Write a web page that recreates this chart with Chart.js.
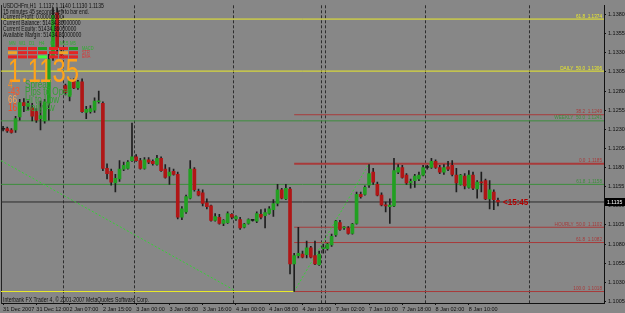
<!DOCTYPE html>
<html>
<head>
<meta charset="utf-8">
<script src="https://cdn.jsdelivr.net/npm/chart.js@4.4.0/dist/chart.umd.min.js"></script>
<style>
  html, body { margin: 0; padding: 0; background: #878787; }
  #wrap { width: 625px; height: 313px; }
</style>
</head>
<body>
<div id="wrap"><canvas id="chart" width="625" height="313"></canvas></div>
<script>
// USDCHFm H1, 31 Dec 2007 - 8 Jan 2008
const timeLabels = ['31 Dec 2007', '31 Dec 12:00', '2 Jan 07:00', '2 Jan 15:00', '3 Jan 00:00',
  '3 Jan 08:00', '3 Jan 16:00', '4 Jan 00:00', '4 Jan 08:00', '4 Jan 16:00', '7 Jan 02:00',
  '7 Jan 10:00', '7 Jan 18:00', '8 Jan 02:00', '8 Jan 10:00'];

const opens = [1.1230,1.1231,1.1229,1.1229,1.1246,1.1265,1.1260,1.1258,1.1253,1.1244,1.1241,1.1264,1.1324,1.1382,1.1330,
  1.1287,1.1273,1.1293,1.1284,1.1292,1.1252,1.1253,1.1255,1.1266,1.1264,1.1179,1.1175,1.1160,1.1165,1.1178,
  1.1179,1.1189,1.1194,1.1189,1.1179,1.1190,1.1188,1.1184,1.1192,1.1178,1.1169,1.1175,1.1171,1.1115,1.1122,
  1.1140,1.1178,1.1149,1.1147,1.1134,1.1130,1.1111,1.1115,1.1107,1.1108,1.1119,1.1113,1.1112,1.1102,1.1107,
  1.1111,1.1110,1.1119,1.1117,1.1120,1.1125,1.1133,1.1151,1.1139,1.1152,1.1054,1.1065,1.1067,1.1066,1.1075,
  1.1065,1.1053,1.1074,1.1074,1.1079,1.1092,1.1108,1.1101,1.1101,1.1094,1.1107,1.1145,1.1145,1.1157,1.1174,
  1.1158,1.1144,1.1131,1.1129,1.1130,1.1174,1.1180,1.1170,1.1160,1.1163,1.1165,1.1170,1.1180,1.1180,1.1188,
  1.1180,1.1174,1.1181,1.1183,1.1170,1.1158,1.1169,1.1154,1.1170,1.1152,1.1161,1.1163,1.1139,1.1148,1.1137];
const highs = [1.1234,1.1233,1.1231,1.1247,1.1269,1.1270,1.1267,1.1264,1.1257,1.1267,1.1269,1.1328,1.1389,1.1388,1.1334,
  1.1289,1.1296,1.1296,1.1294,1.1296,1.1260,1.1261,1.1271,1.1280,1.1266,1.1185,1.1178,1.1171,1.1189,1.1187,
  1.1189,1.1238,1.1197,1.1192,1.1193,1.1193,1.1190,1.1196,1.1194,1.1184,1.1180,1.1178,1.1174,1.1129,1.1144,
  1.1189,1.1180,1.1152,1.1151,1.1139,1.1131,1.1120,1.1119,1.1112,1.1122,1.1120,1.1117,1.1115,1.1107,1.1113,
  1.1112,1.1122,1.1125,1.1126,1.1129,1.1138,1.1158,1.1153,1.1158,1.1154,1.1068,1.1102,1.1071,1.1084,1.1077,
  1.1084,1.1071,1.1080,1.1081,1.1093,1.1111,1.1111,1.1103,1.1103,1.1107,1.1148,1.1148,1.1156,1.1184,1.1179,
  1.1161,1.1147,1.1135,1.1139,1.1192,1.1184,1.1183,1.1172,1.1165,1.1171,1.1174,1.1183,1.1183,1.1192,1.1190,
  1.1183,1.1184,1.1188,1.1189,1.1179,1.1171,1.1172,1.1176,1.1174,1.1163,1.1174,1.1165,1.1163,1.1151,1.1140];
const lows = [1.1228,1.1226,1.1225,1.1226,1.1242,1.1253,1.1256,1.1241,1.1239,1.1229,1.1238,1.1242,1.1320,1.1328,1.1324,
  1.1275,1.1267,1.1283,1.1282,1.1252,1.1244,1.1251,1.1252,1.1264,1.1176,1.1165,1.1157,1.1148,1.1162,1.1176,
  1.1178,1.1188,1.1188,1.1178,1.1178,1.1185,1.1183,1.1183,1.1175,1.1166,1.1158,1.1170,1.1113,1.1112,1.1120,
  1.1139,1.1149,1.1143,1.1130,1.1126,1.1110,1.1110,1.1106,1.1104,1.1107,1.1113,1.1111,1.1099,1.1101,1.1106,
  1.1110,1.1108,1.1113,1.1101,1.1119,1.1116,1.1130,1.1139,1.1138,1.1041,1.1018,1.1062,1.1062,1.1062,1.1062,
  1.1053,1.1052,1.1068,1.1072,1.1077,1.1090,1.1098,1.1099,1.1093,1.1093,1.1106,1.1140,1.1144,1.1154,1.1158,
  1.1143,1.1130,1.1122,1.1107,1.1129,1.1172,1.1166,1.1158,1.1153,1.1154,1.1163,1.1169,1.1178,1.1179,1.1179,
  1.1172,1.1171,1.1176,1.1169,1.1148,1.1157,1.1152,1.1153,1.1151,1.1140,1.1148,1.1138,1.1126,1.1125,1.1130];
const closes = [1.1230,1.1228,1.1226,1.1244,1.1265,1.1261,1.1264,1.1247,1.1242,1.1248,1.1266,1.1321,1.1379,1.1337,1.1327,
  1.1278,1.1293,1.1284,1.1292,1.1253,1.1256,1.1257,1.1267,1.1267,1.1179,1.1172,1.1161,1.1166,1.1178,1.1183,
  1.1187,1.1194,1.1189,1.1179,1.1190,1.1187,1.1185,1.1192,1.1176,1.1167,1.1174,1.1171,1.1115,1.1126,1.1142,
  1.1178,1.1151,1.1144,1.1133,1.1129,1.1111,1.1116,1.1107,1.1111,1.1120,1.1115,1.1116,1.1101,1.1106,1.1112,
  1.1111,1.1120,1.1115,1.1121,1.1126,1.1133,1.1151,1.1140,1.1153,1.1054,1.1065,1.1068,1.1063,1.1075,1.1063,
  1.1054,1.1067,1.1075,1.1080,1.1090,1.1110,1.1099,1.1102,1.1094,1.1106,1.1145,1.1142,1.1154,1.1172,1.1161,
  1.1144,1.1131,1.1130,1.1131,1.1176,1.1180,1.1167,1.1160,1.1162,1.1169,1.1170,1.1180,1.1180,1.1188,1.1180,
  1.1174,1.1180,1.1178,1.1171,1.1160,1.1170,1.1156,1.1170,1.1153,1.1161,1.1160,1.1139,1.1151,1.1138,1.1135];

// price scale ticks
const priceTicks = [1.1005,1.1030,1.1055,1.1080,1.1105,1.1130,1.1155,1.1180,1.1205,1.1230,1.1255,1.1280,1.1305,1.1330,1.1355,1.1380];

// fibo objects: price, caption, set, bar range
const fibPrices = [1.1374, 1.1306, 1.1249, 1.1241, 1.1185, 1.1158, 1.1102, 1.1082, 1.1018, 1.1018];
const fibTexts  = ['61.8  1.1374', 'DAILY  50.0  1.1306', '38.2  1.1249', 'WEEKLY  50.0  1.1241', '0.0  1.1185',
  '61.8  1.1158', 'HOURLY  50.0  1.1102', '61.8  1.1082', '100.0  1.1018', ''];
const fibSets   = ['daily', 'daily', 'hourly', 'weekly', 'hourly', 'weekly', 'hourly', 'hourly', 'hourly', 'daily'];
const fibFrom   = [-0.5, -0.5, 70, -0.5, 70, -0.5, 70, 70, 70, -0.5];
const fibTo     = [144.5, 144.5, 144.5, 144.5, 144.5, 144.5, 144.5, 144.5, 144.5, 70];

// dotted trend lines (bar index, price)
const trendA = [{ x: -0.5, y: 1.1189 }, { x: 55.5, y: 1.1020 }];
const trendB = [{ x: 70, y: 1.1018 }, { x: 88, y: 1.1185 }];

// day separators sit between bars
const separators = [14.5, 31.5, 55.5, 76.5, 77.5, 101.5, 126.5];

const infoLines = ['15 minutes 45 seconds left to bar end.', 'Current Profit: 0.00000000',
  'Current Balance: 51434.86000000', 'Current Equity: 51434.86000000', 'Available Margin: 51434.86000000'];
const periods = ['MN', 'W1', 'D1', 'H4', 'H1', 'M15', 'M5'];
const signalNames = ['MACD', 'STR', 'EMA'];
const signals = [
  ['dn', 'dn', 'dn', 'up', 'dn', 'dn', 'up'],
  ['wk', 'dn', 'dn', 'dn', 'dn', 'wk', 'dn'],
  ['dn', 'dn', 'dn', 'st', 'dn', 'dn', 'dn']
];
const statValues = ['4', '-43', '66', '16'];
const statNames = ['Spread', 'Pips to Open', 'Hi to Low', 'Daily Av'];

// ---- styles ----
const FONT = '"Liberation Sans", Arial, sans-serif';
const UP = '#22a022', DOWN = '#b01616', DOJI = '#1a1a1a';
const setColor = { daily: '#eaea2a', weekly: '#3d8f3d', hourly: '#a83a3a' };
const sigColor = { dn: '#e42424', up: '#1e9e1e', wk: '#f0a428', st: '#3cff3c' };
const statColor = ['#ff8c1a', '#ff5322', '#ffa050', '#ff4414'];

const N_SLOTS = 145;
const lastIdx = closes.length - 1;
const lastClose = closes[lastIdx];
const labelTicks = timeLabels.map((t, k) => k * 8);
const xTicks = labelTicks.concat(separators).sort((a, b) => a - b);

function bodyColor(i) {
  if (closes[i] > opens[i]) return UP;
  if (closes[i] < opens[i]) return DOWN;
  return DOJI;
}

function text(ctx, s, x, y, size, color, opts = {}) {
  ctx.save();
  ctx.translate(x, y);
  ctx.scale(opts.sx || 0.78, 1);
  ctx.font = (opts.bold ? 'bold ' : '') + size + 'px ' + FONT;
  ctx.fillStyle = color;
  ctx.textAlign = opts.align || 'left';
  ctx.textBaseline = 'alphabetic';
  ctx.fillText(s, 0, 0);
  ctx.restore();
}

const datasets = [];
fibPrices.forEach((p, i) => {
  datasets.push({
    type: 'line', order: 5,
    data: [{ x: fibFrom[i], y: p }, { x: fibTo[i], y: p }],
    borderColor: setColor[fibSets[i]], borderWidth: i === 4 ? 2 : 1, pointRadius: 0
  });
});
datasets.push({
  type: 'line', order: 5,
  data: [{ x: -0.5, y: lastClose }, { x: N_SLOTS - 0.5, y: lastClose }],
  borderColor: '#2c2c2c', borderWidth: 1, pointRadius: 0
});
[trendA, trendB].forEach(t => datasets.push({
  type: 'line', order: 4, data: t,
  borderColor: '#35d035', borderWidth: 1, borderDash: [2, 2], pointRadius: 0
}));
datasets.push({
  type: 'bar', order: 2, grouped: false, barThickness: 1, minBarLength: 1,
  data: lows.map((l, i) => ({ x: i, y: [l, highs[i]] })),
  backgroundColor: '#1e1e1e', borderWidth: 0
});
datasets.push({
  type: 'bar', order: 1, grouped: false, barThickness: 3, minBarLength: 1,
  data: opens.map((o, i) => ({ x: i, y: [o, closes[i]] })),
  backgroundColor: opens.map((o, i) => bodyColor(i)), borderWidth: 0
});

const overlay = {
  id: 'overlay',
  beforeDraw(chart) {
    const ctx = chart.ctx;
    ctx.save();
    ctx.fillStyle = '#878787';
    ctx.fillRect(0, 0, chart.width, chart.height);
    ctx.restore();
  },
  afterDatasetsDraw(chart) {
    const ctx = chart.ctx;
    const { y, x } = chart.scales;
    const area = chart.chartArea;

    // fibo captions
    fibPrices.forEach((p, i) => {
      if (!fibTexts[i]) return;
      text(ctx, fibTexts[i], area.right - 2, y.getPixelForValue(p) - 1.5, 6, setColor[fibSets[i]], { align: 'right' });
    });

    // header and account lines
    const head = 'USDCHFm,H1  ' + [opens, highs, lows, closes].map(a => a[lastIdx].toFixed(4)).join(' ');
    text(ctx, head, 3, 8, 6.5, '#111');
    infoLines.forEach((s, i) => text(ctx, s, 3, 13.5 + i * 5.8, 6.5, '#111'));

    // signal matrix
    const colX = [8, 18, 28, 38, 49, 59, 69];
    periods.forEach((p, c) => text(ctx, p, colX[c] + 1, 45, 5.5, '#2fb02f'));
    signals.forEach((row, r) => {
      row.forEach((s, c) => {
        ctx.fillStyle = sigColor[s];
        ctx.fillRect(colX[c], 47 + r * 4.2, 9, 3);
      });
      text(ctx, signalNames[r], 82, 50 + r * 4.2, 5, r === 0 ? '#2fb02f' : '#e03030');
    });

    // big price
    text(ctx, lastClose.toFixed(4), 8, 82, 33, '#ffa31a', { sx: 0.72 });

    statValues.forEach((v, i) => {
      text(ctx, v, 8, 87.5 + i * 7.8, 10.5, statColor[i]);
      text(ctx, statNames[i], 25, 87.5 + i * 7.8, 10.5, '#35a035');
    });

    // time left marker
    const py = y.getPixelForValue(lastClose);
    text(ctx, '<15:45', x.getPixelForValue(lastIdx) + 5, py + 3.5, 9.5, '#b40000', { bold: true, sx: 0.85 });

    text(ctx, 'Interbank FX Trader 4, \u00a9 2001-2007 MetaQuotes Software Corp.', 3, 302, 6.5, '#111');
  },
  afterDraw(chart) {
    const ctx = chart.ctx;
    const py = chart.scales.y.getPixelForValue(lastClose);
    ctx.save();
    ctx.fillStyle = '#000';
    ctx.fillRect(605, Math.round(py) - 4, 20, 8);
    ctx.restore();
    text(ctx, lastClose.toFixed(4), 607, py + 2, 6, '#fff', { sx: 0.85 });
  }
};

new Chart(document.getElementById('chart'), {
  type: 'bar',
  data: { datasets },
  options: {
    responsive: false,
    animation: false,
    events: [],
    layout: { padding: 0 },
    plugins: { legend: { display: false }, tooltip: { enabled: false } },
    scales: {
      x: {
        type: 'linear', min: -0.5, max: N_SLOTS - 0.5, offset: false,
        afterBuildTicks: s => { s.ticks = xTicks.map(v => ({ value: v })); },
        grid: {
          offset: false,
          color: ctx => ctx.tick && separators.includes(ctx.tick.value) ? '#2e2e2e' : 'rgba(0,0,0,0)',
          tickColor: ctx => ctx.tick && labelTicks.includes(ctx.tick.value) ? '#111' : 'rgba(0,0,0,0)',
          tickLength: 2, lineWidth: 1
        },
        border: { color: '#111', dash: [3, 2] },
        ticks: {
          autoSkip: false, maxRotation: 0, minRotation: 0, align: 'start', padding: 1,
          color: '#111', font: { size: 5.5, family: FONT },
          callback: v => labelTicks.includes(v) ? timeLabels[v / 8] : ''
        },
        afterFit: s => { s.height = 10; }
      },
      y: {
        position: 'right', min: 1.1003, max: 1.1392,
        afterBuildTicks: s => { s.ticks = priceTicks.map(v => ({ value: v })); },
        grid: { drawOnChartArea: false, tickLength: 2, tickColor: '#111' },
        border: { color: '#111' },
        ticks: { color: '#111', padding: 2, font: { size: 5.5, family: FONT }, callback: v => Number(v).toFixed(4) },
        afterFit: s => { s.width = 21; }
      },
      yl: {
        position: 'left', display: true,
        grid: { display: false, drawTicks: false },
        ticks: { display: false },
        border: { color: '#222' },
        afterFit: s => { s.width = 1; }
      }
    }
  },
  plugins: [overlay]
});
</script>
</body>
</html>
